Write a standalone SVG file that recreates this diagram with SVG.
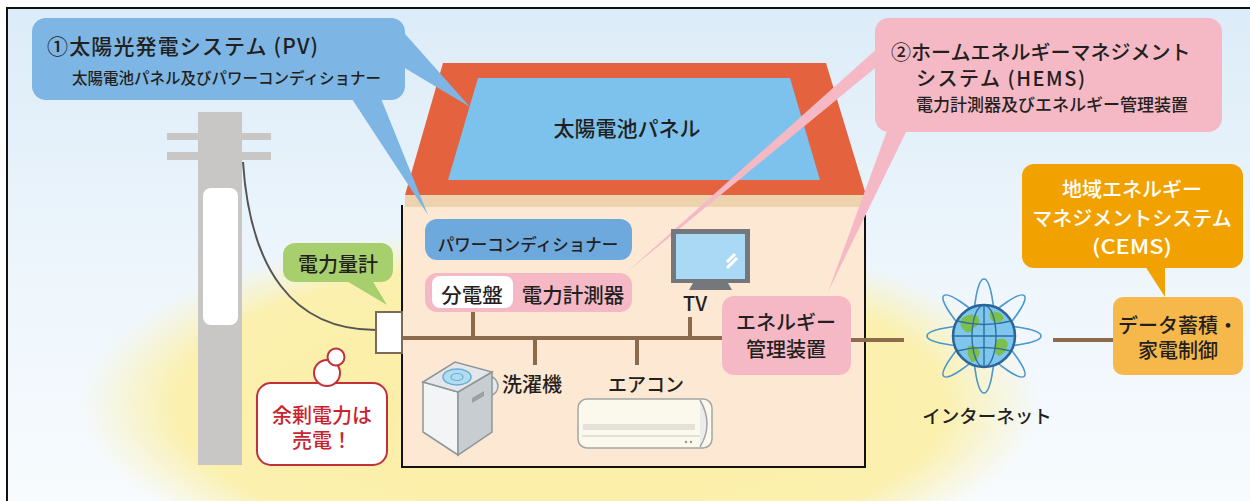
<svg xmlns="http://www.w3.org/2000/svg" width="1250" height="501" viewBox="0 0 1250 501">
  <defs>
    <linearGradient id="sky" x1="0" y1="0" x2="0" y2="1">
      <stop offset="0" stop-color="#dcecf8"/>
      <stop offset="0.55" stop-color="#eef6fc"/>
      <stop offset="1" stop-color="#f7fbfe"/>
    </linearGradient>
    <radialGradient id="glow" cx="0.5" cy="0.5" r="0.5">
      <stop offset="0" stop-color="#fbeea4"/>
      <stop offset="0.8" stop-color="#fbf0ae"/>
      <stop offset="1" stop-color="#fbf1b6" stop-opacity="0"/>
    </radialGradient>
    <style>
      text { font-family: "Noto Sans CJK JP", "Noto Sans", sans-serif; font-weight: 500; fill: #231f20; }
      .mid { text-anchor: middle; }
      .white { fill: #ffffff; }
      .red { fill: #c9232f; }
      .bus { stroke: #8b6b4c; stroke-width: 4; fill: none; }
      .blue { fill: #7db6e4; }
      .pink { fill: #f5b9c6; }
    </style>
  </defs>

  <!-- backdrop -->
  <rect width="1250" height="501" fill="#ffffff"/>
  <rect x="7" y="8" width="1243" height="493" fill="url(#sky)"/>
  <ellipse cx="560" cy="405" rx="480" ry="180" fill="url(#glow)"/>
  <path d="M7,501 V8 H1250" fill="none" stroke="#111" stroke-width="2"/>

  <!-- utility pole -->
  <g id="pole">
    <rect x="198" y="112" width="44" height="353" fill="#c9c6c6"/>
    <rect x="167" y="133" width="104" height="7" fill="#c9c6c6"/>
    <rect x="167" y="152" width="104" height="8" fill="#c9c6c6"/>
    <rect x="203" y="188" width="35" height="137" rx="8" fill="#ffffff"/>
  </g>

  <!-- roof with solar panel -->
  <g id="roof">
    <polygon points="443,63 826,63 866,195 405,195" fill="#e4623e"/>
    <rect x="405" y="195" width="461" height="12" fill="#ecd3ae"/>
    <polygon points="478,78 790,78 820,180 448,180" fill="#7cc2ec"/>
    <text x="627" y="136" class="mid" font-size="21">太陽電池パネル</text>
  </g>

  <!-- house body -->
  <g id="house">
    <rect x="402" y="207" width="463" height="260" fill="#fde8d3"/>
    <path d="M402,205 V467 H865 V215" fill="none" stroke="#111" stroke-width="2"/>
  </g>

  <!-- wiring and pointers -->
  <g id="connectors">
    <path d="M243,162 C250,268 292,330 376,330" fill="none" stroke="#555" stroke-width="2"/>
    <line class="bus" x1="403" y1="338" x2="722" y2="338"/>
    <line class="bus" x1="473" y1="312" x2="473" y2="338"/>
    <line class="bus" x1="535" y1="338" x2="535" y2="365"/>
    <line class="bus" x1="637" y1="338" x2="637" y2="365"/>
    <line class="bus" x1="690" y1="317" x2="690" y2="338"/>
    <line class="bus" x1="851" y1="340" x2="904" y2="340"/>
    <line class="bus" x1="1053" y1="340" x2="1113" y2="340"/>
    <polygon class="blue" points="398,26 398,64 470,107"/>
    <polygon class="blue" points="350,96 380,96 428,215"/>
    <polygon class="pink" points="880,46 880,64 627,272"/>
    <polygon class="pink" points="888,128 908,128 828,292"/>
  </g>

  <!-- callout: PV system -->
  <g id="pv-callout">
    <rect class="blue" x="32" y="18" width="373" height="82" rx="14"/>
    <text x="47" y="54" font-size="21" textLength="271" lengthAdjust="spacing">①太陽光発電システム (PV)</text>
    <text x="72" y="84" font-size="15.5">太陽電池パネル及びパワーコンディショナー</text>
  </g>

  <!-- callout: HEMS -->
  <g id="hems-callout">
    <rect class="pink" x="875" y="18" width="347" height="114" rx="14"/>
    <text x="891" y="60" font-size="20">②ホームエネルギーマネジメント</text>
    <text x="916" y="86" font-size="20" textLength="169" lengthAdjust="spacing">システム (HEMS)</text>
    <text x="916" y="111" font-size="17">電力計測器及びエネルギー管理装置</text>
  </g>

  <!-- power conditioner -->
  <g id="power-conditioner">
    <rect x="425" y="219" width="207" height="41" rx="12" fill="#6ea9de"/>
    <text x="528" y="251" class="mid" font-size="16.5">パワーコンディショナー</text>
  </g>

  <!-- distribution board and power meter -->
  <g id="distribution-board">
    <rect class="pink" x="425" y="273" width="207" height="39" rx="12"/>
    <rect x="432" y="276" width="81" height="32" rx="8" fill="#ffffff"/>
    <text x="472" y="303" class="mid" font-size="20.5">分電盤</text>
    <text x="573" y="303" class="mid" font-size="20.5">電力計測器</text>
  </g>

  <!-- television -->
  <g id="tv">
    <rect x="671" y="229" width="79" height="54" fill="#74787d"/>
    <rect x="676" y="234" width="69" height="45" fill="#aad9f5"/>
    <path d="M727,262 L735,254 M727,268 L737,258" stroke="#ffffff" stroke-width="3"/>
    <polygon points="693,283 728,283 732,290 689,290" fill="#74787d"/>
    <text x="695" y="311" class="mid" font-size="20">TV</text>
  </g>

  <!-- washing machine -->
  <g id="washer">
    <circle cx="488" cy="386" r="10" fill="#e6e9eb" stroke="#9aa0a4" stroke-width="1.5"/>
    <polygon points="423,382 458,392 458,455 423,432" fill="#f2f4f5" stroke="#8f969a" stroke-width="1.5"/>
    <polygon points="458,392 492,372 492,432 458,455" fill="#c8cdd1" stroke="#8f969a" stroke-width="1.5"/>
    <polygon points="423,382 455,362 492,372 458,392" fill="#e3e7ea" stroke="#8f969a" stroke-width="1.5"/>
    <ellipse cx="457" cy="377" rx="14" ry="8" fill="#b2dcf2" stroke="#6aaed0" stroke-width="1.5"/>
    <ellipse cx="457" cy="377" rx="6" ry="3.5" fill="none" stroke="#6aaed0" stroke-width="1.2"/>
    <polygon points="472,398 484,391 484,396 472,403" fill="#9aa0a4"/>
    <text x="502" y="392" font-size="20">洗濯機</text>
  </g>

  <!-- air conditioner -->
  <g id="aircon">
    <rect x="578" y="399" width="134" height="49" rx="9" fill="#fbf8ec" stroke="#a3a6a6" stroke-width="1.5"/>
    <path d="M700,400 Q714,424 700,447" fill="#ececec" stroke="#a3a6a6" stroke-width="1.5"/>
    <rect x="583" y="424" width="112" height="6" fill="#e4e2d8"/>
    <path d="M582,436 H700" stroke="#c9c9c4" stroke-width="1"/>
    <circle cx="686" cy="442" r="1.2" fill="#999"/>
    <circle cx="691" cy="442" r="1.2" fill="#999"/>
    <text x="608" y="392" font-size="19">エアコン</text>
  </g>

  <!-- energy management unit -->
  <g id="energy-manager">
    <rect class="pink" x="722" y="296" width="129" height="79" rx="12"/>
    <text x="786" y="330" class="mid" font-size="20">エネルギー</text>
    <text x="786" y="357" class="mid" font-size="20">管理装置</text>
  </g>

  <!-- electricity meter -->
  <g id="meter">
    <rect x="376" y="312" width="26" height="41" fill="#ffffff" stroke="#7b6a58" stroke-width="2"/>
  </g>
  <g id="meter-label">
    <rect x="283" y="243" width="110" height="39" rx="12" fill="#a8cf6d"/>
    <polygon points="345,280 372,280 387,305" fill="#a8cf6d"/>
    <text x="338" y="272" class="mid" font-size="20">電力量計</text>
  </g>

  <!-- surplus power note -->
  <g id="sell-note">
    <rect x="257" y="383" width="130" height="82" rx="14" fill="#ffffff" stroke="#c2303b" stroke-width="2"/>
    <circle cx="327" cy="373" r="13" fill="#ffffff" stroke="#c2303b" stroke-width="2"/>
    <circle cx="336" cy="357" r="8.5" fill="#ffffff" stroke="#c2303b" stroke-width="2"/>
    <text x="322" y="423" class="mid red" font-size="20">余剰電力は</text>
    <text x="322" y="448" class="mid red" font-size="20">売電！</text>
  </g>

  <!-- internet globe -->
  <g id="internet">
    <g fill="none" stroke="#4b97cb" stroke-width="1.6">
      <ellipse cx="984" cy="336" rx="57" ry="11"/>
      <ellipse cx="984" cy="336" rx="57" ry="11" transform="rotate(45 984 336)"/>
      <ellipse cx="984" cy="336" rx="57" ry="11" transform="rotate(90 984 336)"/>
      <ellipse cx="984" cy="336" rx="57" ry="11" transform="rotate(135 984 336)"/>
    </g>
    <circle cx="984" cy="336" r="31" fill="#7fc6ee"/>
    <path d="M962,318 q8,-6 16,-2 q4,8 -4,12 q-6,8 -10,2 q-6,-4 -2,-12z" fill="#7dbf4c"/>
    <path d="M990,312 q10,-2 14,6 q-4,6 -10,4 q-6,-4 -4,-10z" fill="#7dbf4c"/>
    <path d="M968,346 q8,-2 12,6 q-2,10 -8,10 q-6,-6 -4,-16z" fill="#7dbf4c"/>
    <path d="M996,340 q10,-4 12,4 q-2,10 -10,12 q-6,-6 -2,-16z" fill="#7dbf4c"/>
    <g fill="none" stroke="#2f6f9c" stroke-width="1.4">
      <ellipse cx="984" cy="336" rx="12" ry="31"/>
      <line x1="984" y1="305" x2="984" y2="367"/>
      <line x1="953" y1="336" x2="1015" y2="336"/>
      <path d="M957,321 Q984,328 1011,321 M957,351 Q984,344 1011,351"/>
    </g>
    <circle cx="984" cy="336" r="31" fill="none" stroke="#2b6496" stroke-width="2.5"/>
    <text x="987" y="423" class="mid" font-size="18.5">インターネット</text>
  </g>

  <!-- community energy management -->
  <g id="cems-callout">
    <rect x="1022" y="164" width="221" height="104" rx="12" fill="#f2a200"/>
    <polygon points="1145,266 1165,266 1165,297" fill="#f2a200"/>
    <text x="1132" y="197" class="mid white" font-size="20">地域エネルギー</text>
    <text x="1132" y="226" class="mid white" font-size="20">マネジメントシステム</text>
    <text x="1132" y="254" class="mid white" font-size="20" textLength="80" lengthAdjust="spacingAndGlyphs">(CEMS)</text>
  </g>

  <g id="data-control">
    <rect x="1113" y="297" width="130" height="78" rx="10" fill="#f7b84b"/>
    <text x="1178" y="333" class="mid" font-size="20">データ蓄積・</text>
    <text x="1178" y="358" class="mid" font-size="20">家電制御</text>
  </g>
</svg>
